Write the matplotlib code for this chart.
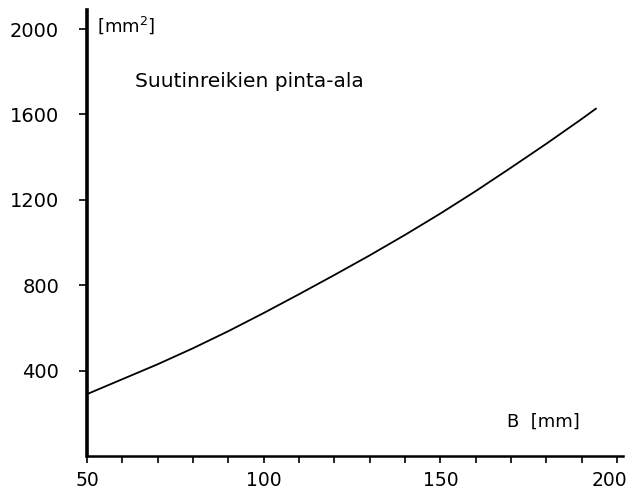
import matplotlib
matplotlib.use("Agg")
import matplotlib.pyplot as plt
from matplotlib.ticker import MultipleLocator
from matplotlib.transforms import ScaledTranslation

# nozzle hole area vs width B
b_mm = [50, 60, 70, 80, 90, 100, 110, 120, 130, 140, 150, 160, 170, 180, 190, 194]
area_mm2 = [290, 360, 430, 505, 585, 670, 758, 848, 940, 1036, 1136, 1241, 1351, 1463, 1579, 1627]

x_ticks = [50, 100, 150, 200]
y_ticks = [400, 800, 1200, 1600, 2000]

fig = plt.figure(figsize=(6.3, 4.92), dpi=100)
ax = fig.add_axes([0.138, 0.073, 0.851, 0.907])

ax.plot(b_mm, area_mm2, color="black", lw=1.3)

ax.set_xlim(50, 201.7)
ax.set_ylim(0, 2090)

for s in ["top", "right"]:
    ax.spines[s].set_visible(False)
ax.spines["left"].set_linewidth(2.6)
ax.spines["bottom"].set_linewidth(1.8)

ax.set_xticks(x_ticks)
ax.set_xticklabels([str(v) for v in x_ticks])
ax.xaxis.set_minor_locator(MultipleLocator(10))
ax.set_yticks(y_ticks)
ax.set_yticklabels([str(v) for v in y_ticks])

ax.tick_params(axis="x", which="both", direction="out", length=5, width=1.2,
               labelsize=13.5, pad=6)
ax.tick_params(axis="y", direction="out", length=6, width=1.2,
               labelsize=14, pad=14)

# last label sits a bit left of its tick so it stays on the page
fig.canvas.draw()
lab = ax.get_xticklabels()[-1]
lab.set_transform(lab.get_transform() + ScaledTranslation(-0.08, 0, fig.dpi_scale_trans))

ax.text(52.8, 2020, "[mm$^2$]", fontsize=13, va="center", ha="left")
ax.text(63.5, 1755, "Suutinreikien pinta-ala", fontsize=14.5, va="center", ha="left")
ax.text(168.9, 159, "B  [mm]", fontsize=13, va="center", ha="left")

fig.savefig("out.png", dpi=100)
